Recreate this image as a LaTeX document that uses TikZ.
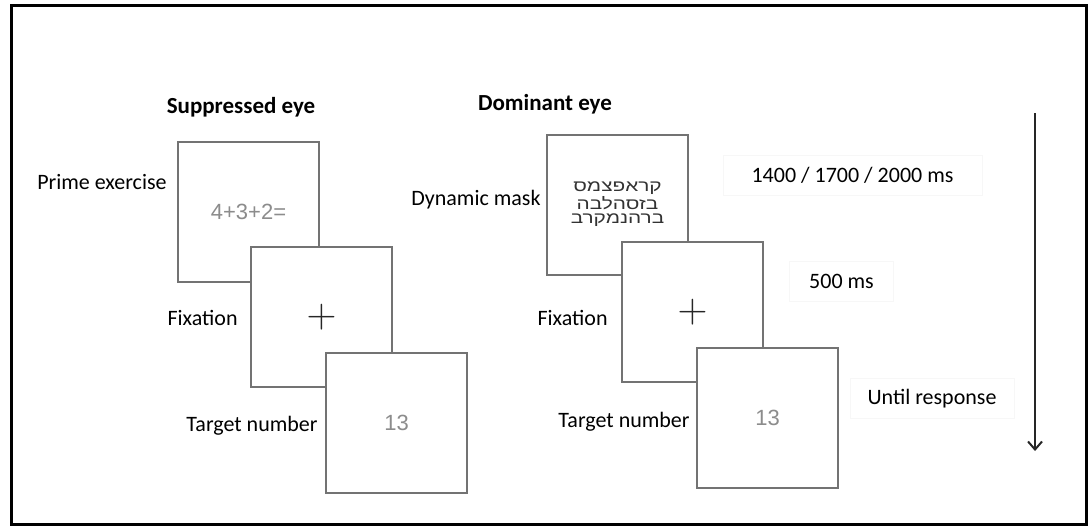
\documentclass[tikz,border=0pt]{standalone}
\usepackage{fontspec}
\setmainfont{Carlito}
\newfontfamily\numfont{Liberation Sans}
\newfontfamily\hebfont[Script=Hebrew,FakeStretch=1.3]{Liberation Sans}
\TeXXeTstate=1
\usetikzlibrary{arrows.meta, positioning}

\begin{document}
\begin{tikzpicture}[
  x=0.5pt, y=-0.5pt,
  screen/.style={draw=black!55, line width=1pt, fill=white, minimum width=70.5pt, minimum height=70pt, inner sep=0pt},
  lbl/.style={font=\fontsize{11}{13}\selectfont, anchor=east, inner sep=0pt},
  eyehead/.style={font=\fontsize{11.5}{14}\selectfont\bfseries, inner sep=0pt},
  stim/.style={font=\numfont\fontsize{11}{13}\selectfont, text=black!45, inner sep=0pt},
  cross/.style={font=\fontsize{21}{21}\selectfont, text=black!85, inner sep=0pt},
  timebox/.style={draw=black!3, font=\fontsize{11}{13}\selectfont, minimum height=20pt, inner sep=0pt},
  arrow/.style={-{Straight Barb[length=4pt,width=7pt]}, line width=1pt, black!85}
]
\useasboundingbox (0,0) rectangle (1090,527);
\draw[line width=1.5pt] (11,5) rectangle (1086,524);

% suppressed eye
\node[eyehead] (suphead) at (241,107) {Suppressed eye};
\node[screen] (prime) at (248.5,212) {};
\node[screen] (sfix) at (321.5,317) {};
\node[screen] (starget) at (396.5,423) {};
\node[stim] at (prime.center) (primetxt) {4+3+2=};
\node[cross] at (sfix.center) (scross) {$+$};
\node[stim] at (starget.center) (snum) {13};
\node[lbl] (primelbl) at (167,182) {Prime exercise};
\node[lbl] (sfixlbl) at (238,318) {Fixation};
\node[lbl] (stargetlbl) at (318,426) {Target number};

% dominant eye
\node[eyehead] (domhead) at (545,104) {Dominant eye};
\node[screen] (mask) at (617.5,204.5) {};
\node[screen] (dfix) at (692.5,312) {};
\node[screen] (dtarget) at (767.5,417.5) {};
\node[align=center, text=black!80, font=\hebfont\fontsize{8}{7}\selectfont, inner sep=0pt] (masktxt) at (mask.center)
  {\beginR קראפצמס\endR\\ \beginR בזסהלבה\endR\\ \beginR ברהנמקרב\endR};
\node[cross] at (dfix.center) (dcross) {$+$};
\node[stim] at (dtarget.center) (dnum) {13};
\node[lbl] (masklbl) at (541,200) {Dynamic mask};
\node[lbl] (dfixlbl) at (608,318) {Fixation};
\node[lbl] (dtargetlbl) at (690,422) {Target number};

% durations
\node[timebox, minimum width=129.5pt] (t1) at (852.5,175) {1400 / 1700 / 2000 ms};
\node[timebox, minimum width=52pt] (t2) at (841.5,281) {500 ms};
\node[timebox, minimum width=82pt] (t3) at (932,398.5) {Until response};

\coordinate (tstart) at (1035,113);
\coordinate (tend) at (1035,451);
\draw[arrow] (tstart) -- (tend);
\end{tikzpicture}
\end{document}
